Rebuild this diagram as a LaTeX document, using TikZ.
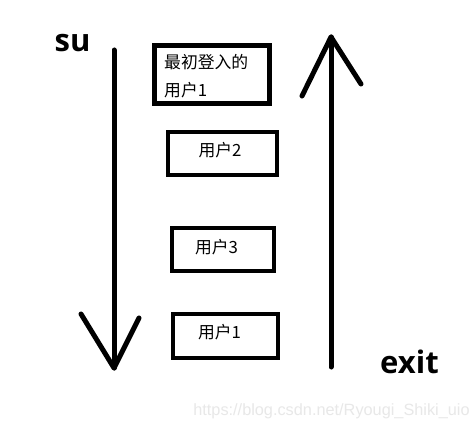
\documentclass[tikz,border=0pt]{standalone}
\usepackage{fontspec}
\setmainfont{Open Sans}
\newfontfamily\cjk{Noto Sans CJK SC}
\newfontfamily\wmfont{Liberation Sans}
\begin{document}
\begin{tikzpicture}[x=1pt,y=-1pt,
  box/.style={draw=black,line width=4.5pt,minimum width=#1,inner sep=0pt},
  lbl/.style={font=\cjk\fontsize{16.8}{20}\selectfont,inner sep=0pt},
  cmd/.style={font=\fontsize{31}{36}\selectfont\bfseries,inner sep=0pt},
  arr/.style={line width=5pt,line cap=round,line join=round}]
\useasboundingbox[fill=white] (0,0) rectangle (473,430);
% boxes
\node[box=115pt,minimum height=58pt,line width=5pt] (b1) at (211.5,75) {};
\node[box=109pt,minimum height=43pt] (b2) at (222.5,153.5) {};
\node[box=102pt,minimum height=43pt] (b3) at (223,249.5) {};
\node[box=105pt,minimum height=44pt] (b4) at (225.5,336) {};
% texts
\node[lbl,anchor=west] (t1a) at (164,62) {最初登入的};
\node[lbl,anchor=west] (t1b) at (164,90) {用户1};
\node[lbl] (t2) at (220,150) {用户2};
\node[lbl] (t3) at (216.5,247) {用户3};
\node[lbl] (t4) at (219.5,332) {用户1};
\node[cmd] (su) at (72.5,43) {su};
\node[cmd] (exit) at (409.5,362) {exit};
\node[font=\wmfont\fontsize{16.3}{19}\selectfont,text=black!9,inner sep=0pt] (wm) at (331.5,411) {https://blog.csdn.net/Ryougi\_Shiki\_uio};
% down arrow
\coordinate (dtop) at (114,50);
\coordinate (dtip) at (114,368);
\coordinate (dl) at (81,314);
\coordinate (dr) at (139,318);
\draw[arr] (dtop) -- (dtip);
\draw[arr] (dl) -- (dtip) -- (dr);
% up arrow
\coordinate (ubot) at (331,367);
\coordinate (utip) at (331,37);
\coordinate (ul) at (302,96);
\coordinate (ur) at (361,84);
\draw[arr] (ubot) -- (utip);
\draw[arr] (ul) -- (utip) -- (ur);
\end{tikzpicture}
\end{document}
